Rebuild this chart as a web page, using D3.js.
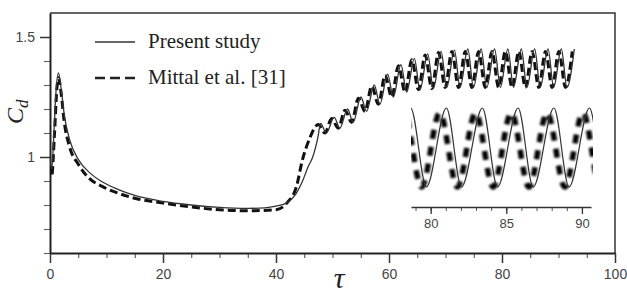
<!DOCTYPE html>
<html>
<head>
<meta charset="utf-8">
<script src="https://cdn.jsdelivr.net/npm/d3@7"></script>
<style>
  html, body { margin: 0; padding: 0; background: #fff; }
  svg { display: block; }
  .tick text { font-family: "Liberation Sans", Arial, sans-serif; fill: #444; }
</style>
</head>
<body>
<div id="chart"></div>
<script>
// series: Present study (solid)
const tauSolid = [0, 0.3, 0.7, 1.0, 1.5, 2.0, 2.5, 3.5, 5, 7, 9, 12, 15, 20, 25, 30, 35, 38, 40, 42,
  43.5, 44.7, 45.7, 46.5, 47.4, 47.9, 48.9, 50.3, 51.3, 52.66, 53.66, 55.03, 56.03, 57.39, 58.39,
  59.76, 60.76, 62.12, 63.12, 64.49, 65.49, 66.85, 67.85, 69.22, 70.22, 71.58, 72.58, 73.95, 74.95,
  76.31, 77.31, 78.68, 79.72, 81.04, 82.04, 83.42, 84.42, 85.78, 86.78, 88.15, 89.15, 90.5, 91.5, 92.8];
const cdSolid = [1.0, 0.95, 1.1, 1.25, 1.35, 1.28, 1.18, 1.07, 0.99, 0.935, 0.9, 0.865, 0.84, 0.815, 0.8, 0.79, 0.786, 0.788, 0.795, 0.81,
  0.845, 0.9, 0.96, 1.0, 1.08, 1.14, 1.10, 1.165, 1.12, 1.20, 1.145, 1.25, 1.19, 1.30, 1.22,
  1.345, 1.25, 1.385, 1.27, 1.41, 1.28, 1.43, 1.285, 1.44, 1.29, 1.445, 1.29, 1.45, 1.29,
  1.45, 1.29, 1.45, 1.29, 1.45, 1.29, 1.45, 1.29, 1.45, 1.29, 1.45, 1.29, 1.45, 1.29, 1.45];

// series: Mittal et al. [31] (dashed)
const tauDashed = [0, 0.3, 0.8, 1.2, 1.5, 2.0, 2.5, 3.5, 5, 7, 9, 12, 15, 20, 25, 30, 35, 40, 42, 43.6,
  44.7, 46.0, 46.8, 47.48, 48.65, 49.85, 51.01, 52.21, 53.38, 54.58, 55.74, 56.94, 58.11, 59.31, 60.47,
  61.67, 62.84, 64.04, 65.2, 66.4, 67.57, 68.77, 69.93, 71.13, 72.3, 73.5, 74.66, 75.86, 77.03, 78.23,
  79.4, 80.6, 81.77, 82.97, 84.13, 85.33, 86.5, 87.7, 88.87, 90.07, 91.23, 92.43];
const cdDashed = [0.96, 0.92, 1.1, 1.28, 1.33, 1.26, 1.15, 1.04, 0.97, 0.91, 0.88, 0.85, 0.828, 0.808, 0.792, 0.78, 0.776, 0.78, 0.81, 0.875,
  0.99, 1.08, 1.12, 1.135, 1.10, 1.16, 1.12, 1.195, 1.145, 1.245, 1.19, 1.295, 1.22, 1.34, 1.25,
  1.38, 1.27, 1.405, 1.28, 1.425, 1.285, 1.435, 1.29, 1.44, 1.29, 1.44, 1.29, 1.44, 1.29, 1.44,
  1.29, 1.44, 1.29, 1.44, 1.29, 1.44, 1.29, 1.44, 1.29, 1.44, 1.29, 1.44];

const seriesNames = ["Present study", "Mittal et al. [31]"];
const xTickLabels = [0, 20, 40, 60, 80, 100];
const yTickLabels = [1, 1.5];
const insetTickLabels = [80, 85, 90];

const W = 627, H = 293;
const margin = {top: 13, right: 12, bottom: 40, left: 50},
    width = 615 - margin.left,
    height = 253 - margin.top;

const svg = d3.select("#chart").append("svg")
    .attr("width", W)
    .attr("height", H);

const defs = svg.append("defs");
defs.append("clipPath").attr("id", "mainClip")
    .append("rect").attr("x", 0).attr("y", 0).attr("width", width).attr("height", height);
defs.append("filter").attr("id", "soft")
    .append("feGaussianBlur").attr("stdDeviation", 0.9);

const g = svg.append("g")
    .attr("transform", "translate(" + margin.left + "," + margin.top + ")");

// scales
const x = d3.scaleLinear().domain([0, 100]).range([0, width]);
const y = d3.scaleLinear().domain([0.6, 1.6]).range([height, 0]);

const solid = tauSolid.map((t, i) => ({t: t, c: cdSolid[i]}));
const dashed = tauDashed.map((t, i) => ({t: t, c: cdDashed[i]}));

// frame (top, right)
g.append("path")
    .attr("d", "M0,0H" + width + "V" + height)
    .attr("fill", "none").attr("stroke", "#333").attr("stroke-width", 1.5);

// x axis
const xAxisMinor = d3.axisBottom(x).tickValues(d3.range(0, 101, 5)).tickSize(5).tickFormat("");
g.append("g").attr("transform", "translate(0," + height + ")").call(xAxisMinor)
    .call(a => a.select(".domain").remove())
    .call(a => a.selectAll("line").attr("stroke", "#444").attr("stroke-width", 1));
g.append("g").attr("transform", "translate(0," + height + ")")
    .call(d3.axisBottom(x).tickValues(xTickLabels).tickSize(10).tickSizeOuter(0).tickPadding(6))
    .call(a => a.select(".domain").attr("stroke", "#222").attr("stroke-width", 2))
    .call(a => a.selectAll("line").attr("stroke", "#333").attr("stroke-width", 1.5))
    .call(a => a.selectAll("text").attr("font-size", 14));

// y axis
g.append("g").call(d3.axisLeft(y).tickValues(d3.range(0.6, 1.55, 0.1)).tickSize(6).tickFormat(""))
    .call(a => a.select(".domain").remove())
    .call(a => a.selectAll("line").attr("stroke", "#555").attr("stroke-width", 1));
g.append("g")
    .call(d3.axisLeft(y).tickValues(yTickLabels).tickSize(10).tickSizeOuter(0).tickPadding(5).tickFormat(d3.format("")))
    .call(a => a.select(".domain").attr("stroke", "#222").attr("stroke-width", 2))
    .call(a => a.selectAll("line").attr("stroke", "#333").attr("stroke-width", 1.5))
    .call(a => a.selectAll("text").attr("font-size", 14));

// curves
const line = d3.line()
    .x(d => x(d.t))
    .y(d => y(d.c))
    .curve(d3.curveMonotoneX);

const curves = g.append("g").attr("clip-path", "url(#mainClip)");
curves.append("path")
    .attr("d", line(dashed))
    .attr("fill", "none").attr("stroke", "#111")
    .attr("stroke-width", 3).attr("stroke-dasharray", "8,4");
curves.append("path")
    .attr("d", line(solid))
    .attr("fill", "none").attr("stroke", "#333")
    .attr("stroke-width", 1.3);

// legend
const legend = svg.append("g");
seriesNames.forEach((name, i) => {
    const ly = 42 + i * 36;
    legend.append("line")
        .attr("x1", 95).attr("x2", 135).attr("y1", ly).attr("y2", ly)
        .attr("stroke", i === 0 ? "#333" : "#222")
        .attr("stroke-width", i === 0 ? 1.5 : 2.5)
        .attr("stroke-dasharray", i === 0 ? null : "10,5");
    legend.append("text")
        .attr("x", 148).attr("y", ly + 6)
        .attr("font-family", "'Liberation Serif', 'Times New Roman', serif")
        .attr("font-size", 21).attr("fill", "#222")
        .text(name);
});

// axis titles
svg.append("text")
    .attr("transform", "translate(23,124) rotate(-90)")
    .attr("font-family", "'Liberation Serif', 'Times New Roman', serif")
    .attr("font-style", "italic").attr("font-size", 24).attr("fill", "#222")
    .call(t => {
        t.append("tspan").text("C");
        t.append("tspan").attr("font-size", 17).attr("dy", 5).text("d");
    });
svg.append("text")
    .attr("x", 339).attr("y", 288)
    .attr("text-anchor", "middle")
    .attr("font-family", "'Liberation Serif', 'Times New Roman', serif")
    .attr("font-style", "italic").attr("font-size", 30).attr("fill", "#222")
    .text("τ");

// inset
const ix = d3.scaleLinear().domain([78.7, 90.6]).range([411, 591]);
const iy = d3.scaleLinear().domain([1.29, 1.45]).range([187, 108]);
defs.append("clipPath").attr("id", "insetClip")
    .append("rect").attr("x", 411).attr("y", 98).attr("width", 182).attr("height", 100);

const iline = d3.line()
    .x(d => ix(d.t))
    .y(d => iy(d.c))
    .curve(d3.curveMonotoneX);

const inset = svg.append("g");
const ic = inset.append("g").attr("clip-path", "url(#insetClip)");
ic.append("path")
    .attr("d", iline(dashed.filter(d => d.t > 76 && d.t < 94)))
    .attr("fill", "none").attr("stroke", "#000")
    .attr("stroke-width", 5.5).attr("stroke-dasharray", "9,8")
    .attr("filter", "url(#soft)");
ic.append("path")
    .attr("d", iline(solid.filter(d => d.t > 76 && d.t < 94)))
    .attr("fill", "none").attr("stroke", "#333")
    .attr("stroke-width", 1.2);

inset.append("g").attr("transform", "translate(0,207)")
    .call(d3.axisBottom(ix).tickValues(d3.range(79, 91, 1)).tickSize(4).tickFormat(""))
    .call(a => a.select(".domain").remove())
    .call(a => a.selectAll("line").attr("stroke", "#555"));
inset.append("g").attr("transform", "translate(0,207)")
    .call(d3.axisBottom(ix).tickValues(insetTickLabels).tickSize(7).tickSizeOuter(0).tickPadding(5))
    .call(a => a.select(".domain").attr("stroke", "#333").attr("stroke-width", 1.3))
    .call(a => a.selectAll("line").attr("stroke", "#333").attr("stroke-width", 1.3))
    .call(a => a.selectAll("text").attr("font-size", 13));
</script>
</body>
</html>
